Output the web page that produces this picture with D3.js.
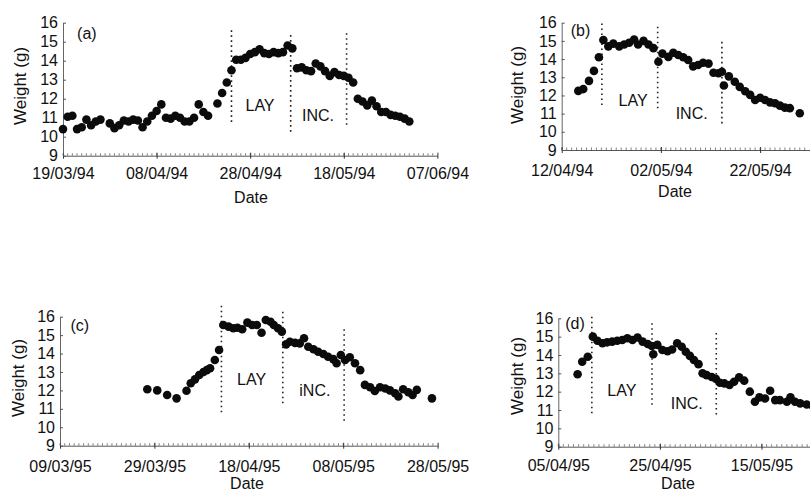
<!DOCTYPE html>
<html>
<head>
<meta charset="utf-8">
<script src="https://cdn.jsdelivr.net/npm/d3@7"></script>
<style>
  body { margin: 0; background: #fff; }
  svg { display: block; }
  text { font-family: "Liberation Sans", Arial, Helvetica, sans-serif; fill: #111; }
</style>
</head>
<body>
<div id="chart"></div>
<script>
// y axis values shared by all four panels
var weightTicks = [9, 10, 11, 12, 13, 14, 15, 16];

// panel (a) - days counted from the first tick date
var aTicks = ["19/03/94", "08/04/94", "28/04/94", "18/05/94", "07/06/94"];
var aDays = [0, 1, 2, 3, 4, 5, 6, 7, 8, 10, 11, 12, 13, 14, 15, 16, 17, 18, 19, 20,
  21, 22, 23, 24, 25, 26, 27, 28, 29, 30, 31, 33, 34, 35, 36, 37, 38, 39, 40, 41,
  42, 43, 44, 45, 46, 47, 48, 49, 50, 51, 52, 53, 54, 55, 56, 57, 58, 59, 60, 61,
  62, 63, 64, 65, 66, 67, 68, 69, 70, 71, 72, 73, 74];
var aWeights = [10.4, 11.05, 11.1, 10.4, 10.5, 10.9, 10.6, 10.8, 10.9, 10.7, 10.45, 10.6, 10.85, 10.8, 10.9, 10.85, 10.5, 10.8, 11.1, 11.35,
  11.7, 11.0, 10.95, 11.1, 11.0, 10.8, 10.8, 11.0, 11.7, 11.3, 11.1, 11.75, 12.3, 12.85, 13.5, 14.05, 14.05, 14.15, 14.35, 14.45,
  14.6, 14.4, 14.35, 14.45, 14.4, 14.45, 14.8, 14.65, 13.6, 13.65, 13.5, 13.45, 13.85, 13.7, 13.45, 13.2, 13.4, 13.25, 13.2, 13.1,
  12.85, 12.0, 11.85, 11.65, 11.9, 11.6, 11.3, 11.3, 11.15, 11.1, 11.05, 10.95, 10.8];
var aPhaseDays = [36.0, 48.65, 60.6];
var aPhaseTop = [15.6, 15.35, 15.45];
var aPhaseBottom = [10.7, 10.1, 10.5];

// panel (b)
var bTicks = ["12/04/94", "02/05/94", "22/05/94"];
var bDays = [3.35, 4.35, 5.5, 6.5, 7.5, 8.4, 9.4, 10.4, 11.6, 12.6, 13.6, 14.6, 15.4, 16.5, 17.5,
  18.5, 19.5, 20.3, 21.5, 22.5, 23.5, 24.5, 25.5, 26.5, 27.5, 28.5, 29.6, 30.6, 31.6, 32.3,
  32.7, 33.7, 34.9, 35.9, 37, 38, 39, 40, 41, 42, 43, 44, 45, 46, 48];
var bWeights = [12.25, 12.35, 12.8, 13.35, 14.1, 15.05, 14.7, 14.85, 14.7, 14.8, 14.9, 15.08, 14.8, 15.0, 14.8,
  14.6, 13.85, 14.3, 14.12, 14.35, 14.22, 14.1, 13.95, 13.6, 13.67, 13.8, 13.75, 13.25, 13.22, 13.3,
  12.55, 13.05, 12.75, 12.47, 12.23, 12.03, 11.75, 11.87, 11.75, 11.62, 11.57, 11.44, 11.33, 11.3, 11.02];
var bPhaseDays = [8.1, 19.35, 32.3];
var bPhaseTop = [15.96, 15.78, 14.95];
var bPhaseBottom = [11.38, 11.2, 10.28];

// panel (c)
var cTicks = ["09/03/95", "29/03/95", "18/04/95", "08/05/95", "28/05/95"];
var cDays = [18.5, 20.6, 22.7, 24.7, 26.8, 27.7, 28.6, 29.5, 30.4, 31.1, 31.8, 32.8, 33.7, 34.6, 35.7,
  36.7, 37.6, 38.6, 39.7, 40.7, 41.7, 42.7, 43.6, 44.6, 45.3, 46.2, 47.0, 47.9, 48.7, 49.8,
  50.8, 51.7, 52.6, 53.7, 54.7, 55.8, 56.8, 57.9, 58.6, 59.5, 60.4, 61.4, 62.5, 63.6, 64.6,
  65.7, 66.7, 67.8, 68.9, 69.9, 71.0, 71.7, 72.7, 73.8, 74.7, 75.6, 78.8];
var cWeights = [12.06, 12.0, 11.75, 11.57, 11.98, 12.39, 12.6, 12.84, 13.0, 13.1, 13.2, 13.65, 14.19, 15.55, 15.46,
  15.37, 15.4, 15.32, 15.68, 15.55, 15.55, 15.13, 15.82, 15.73, 15.55, 15.37, 15.19, 14.5, 14.64, 14.58,
  14.55, 14.83, 14.37, 14.23, 14.1, 13.98, 13.83, 13.7, 13.47, 13.92, 13.65, 13.8, 13.47, 13.1, 12.3,
  12.17, 11.97, 12.17, 12.1, 12.0, 11.85, 11.67, 12.06, 11.9, 11.75, 12.03, 11.57];
var cPhaseDays = [34.2, 47.2, 60.2];
var cPhaseTop = [16.6, 16.27, 15.32];
var cPhaseBottom = [10.76, 11.3, 10.3];

// panel (d)
var dTicks = ["05/04/95", "25/04/95", "15/05/95"];
var dDays = [3.8, 4.7, 5.8, 6.8, 7.7, 8.7, 9.6, 10.6, 11.6, 12.6, 13.6, 14.6, 15.6, 16.6, 17.6,
  18.4, 18.7, 19.5, 20.5, 21.5, 22.4, 23.4, 24.3, 25.1, 25.9, 26.7, 27.6, 28.4, 29.2, 30.2,
  31.0, 31.8, 32.7, 33.7, 34.6, 35.6, 36.6, 37.7, 38.7, 39.6, 40.7, 41.7, 42.7, 43.6, 45.0,
  45.7, 46.6, 47.6, 48.9, 50.0];
var dWeights = [12.95, 13.63, 13.9, 15.0, 14.78, 14.64, 14.69, 14.73, 14.78, 14.82, 14.91, 14.82, 14.95, 14.73, 14.6,
  14.49, 14.04, 14.55, 14.27, 14.2, 14.3, 14.64, 14.45, 14.18, 13.95, 13.73, 13.5, 13.0, 12.9, 12.8,
  12.7, 12.49, 12.45, 12.36, 12.54, 12.78, 12.6, 12.0, 11.45, 11.69, 11.63, 12.05, 11.54, 11.54, 11.45,
  11.69, 11.45, 11.36, 11.3, 11.25];
var dPhaseDays = [6.6, 18.45, 31.1];
var dPhaseTop = [16.09, 15.73, 15.2];
var dPhaseBottom = [10.64, 11.09, 10.64];

var parseDate = d3.utcParse("%d/%m/%y");
var DAY = 864e5;

// layout of each panel (pixel geometry)
var panels = [
  {letter: "(a)", ticks: aTicks, endDays: 80, days: aDays, weights: aWeights,
   phase: aPhaseDays, top: aPhaseTop, bottom: aPhaseBottom, inc: "INC.",
   left: 63, pxDay: 4.68, y16: 22.7, y9: 155.7, tickDy: 17.6, dateX: 251, dateY: 197, wX: 20, wY: 86,
   letterAt: [5.1, 15.46], layAt: [42.1, 11.67], incAt: [54.5, 11.14]},
  {letter: "(b)", ticks: bTicks, endDays: 50, days: bDays, weights: bWeights,
   phase: bPhaseDays, top: bPhaseTop, bottom: bPhaseBottom, inc: "INC.",
   left: 561.7, pxDay: 4.96, y16: 22.7, y9: 150, tickDy: 20, dateX: 675, dateY: 191.5, wX: 517, wY: 85,
   letterAt: [3.8, 15.56], layAt: [14.4, 11.75], incAt: [26.2, 11.02]},
  {letter: "(c)", ticks: cTicks, endDays: 80, days: cDays, weights: cWeights,
   phase: cPhaseDays, top: cPhaseTop, bottom: cPhaseBottom, inc: "iNC.",
   left: 60, pxDay: 4.72, y16: 316.7, y9: 445.7, tickDy: 21, dateX: 247, dateY: 483, wX: 18, wY: 378,
   letterAt: [4.2, 15.55], layAt: [40.6, 12.6], incAt: [54.0, 12.02]},
  {letter: "(d)", ticks: dTicks, endDays: 50, days: dDays, weights: dWeights,
   phase: dPhaseDays, top: dPhaseTop, bottom: dPhaseBottom, inc: "INC.",
   left: 558.3, pxDay: 5.08, y16: 318.3, y9: 446.7, tickDy: 18.3, dateX: 678, dateY: 483, wX: 517, wY: 376,
   letterAt: [3.3, 15.73], layAt: [12.5, 12.09], incAt: [25.3, 11.37]}
];

var svg = d3.select("#chart").append("svg")
  .attr("width", 810)
  .attr("height", 493);

svg.append("rect").attr("width", 810).attr("height", 493).attr("fill", "#fff");

panels.forEach(function(p) {
  var start = parseDate(p.ticks[0]);
  var end = new Date(+start + p.endDays * DAY);
  function dayDate(d) { return new Date(+start + d * DAY); }

  var x = d3.scaleUtc()
    .domain([start, end])
    .range([p.left, p.left + p.pxDay * p.endDays]);
  var y = d3.scaleLinear()
    .domain([9, 16])
    .range([p.y9, p.y16]);

  var g = svg.append("g");

  // minor daily ticks along the date axis
  g.append("g")
    .selectAll("line")
    .data(d3.utcDay.range(start, end))
    .join("line")
      .attr("x1", function(d) { return x(d); })
      .attr("x2", function(d) { return x(d); })
      .attr("y1", p.y9)
      .attr("y2", p.y9 - 2.5)
      .attr("stroke", "#666")
      .attr("stroke-width", 0.8);

  // x axis
  var xAxis = g.append("g")
    .attr("transform", "translate(0," + p.y9 + ")")
    .call(d3.axisBottom(x)
      .tickValues(p.ticks.map(parseDate))
      .tickFormat(d3.utcFormat("%d/%m/%y"))
      .tickSizeInner(3)
      .tickSizeOuter(0));
  xAxis.select(".domain").attr("stroke", "#444").attr("stroke-width", 0.9);
  xAxis.selectAll(".tick line").attr("stroke", "#333").attr("y1", -3);
  xAxis.selectAll("text")
    .attr("y", p.tickDy)
    .attr("dy", "0.35em")
    .style("font-size", "16px")
    .style("font-family", "'Liberation Sans', Arial, Helvetica, sans-serif")
    .attr("fill", "#111");

  // y axis
  var yAxis = g.append("g")
    .attr("transform", "translate(" + p.left + ",0)")
    .call(d3.axisLeft(y)
      .tickValues(weightTicks)
      .tickFormat(d3.format("d"))
      .tickSizeInner(-3)
      .tickSizeOuter(0)
      .tickPadding(5));
  yAxis.select(".domain").attr("stroke", "#555").attr("stroke-width", 0.9);
  yAxis.selectAll(".tick line").attr("stroke", "#555");
  yAxis.selectAll("text")
    .style("font-size", "16px")
    .style("font-family", "'Liberation Sans', Arial, Helvetica, sans-serif")
    .attr("fill", "#111");

  // axis titles
  g.append("text")
    .attr("x", p.dateX)
    .attr("y", p.dateY)
    .attr("dy", "0.35em")
    .attr("text-anchor", "middle")
    .style("font-size", "16px")
    .text("Date");
  g.append("text")
    .attr("transform", "translate(" + p.wX + "," + p.wY + ") rotate(-90)")
    .attr("dy", "0.35em")
    .attr("text-anchor", "middle")
    .style("font-size", "17px")
    .text("Weight (g)");

  // dotted lines marking laying / incubation
  g.append("g")
    .selectAll("line")
    .data(p.phase)
    .join("line")
      .attr("x1", function(d) { return x(dayDate(d)); })
      .attr("x2", function(d) { return x(dayDate(d)); })
      .attr("y1", function(d, i) { return y(p.top[i]); })
      .attr("y2", function(d, i) { return y(p.bottom[i]); })
      .attr("stroke", "#222")
      .attr("stroke-width", 1.6)
      .attr("stroke-dasharray", "1.6,3.4");

  // weight points
  g.append("g")
    .selectAll("circle")
    .data(p.days)
    .join("circle")
      .attr("cx", function(d) { return x(dayDate(d)); })
      .attr("cy", function(d, i) { return y(p.weights[i]); })
      .attr("r", 4.3)
      .attr("fill", "#0b0b0b");

  // annotations
  [[p.letter, p.letterAt], ["LAY", p.layAt], [p.inc, p.incAt]].forEach(function(t) {
    g.append("text")
      .attr("x", x(dayDate(t[1][0])))
      .attr("y", y(t[1][1]))
      .attr("dy", "0.35em")
      .attr("text-anchor", "middle")
      .style("font-size", "16px")
      .text(t[0]);
  });
});
</script>
</body>
</html>
